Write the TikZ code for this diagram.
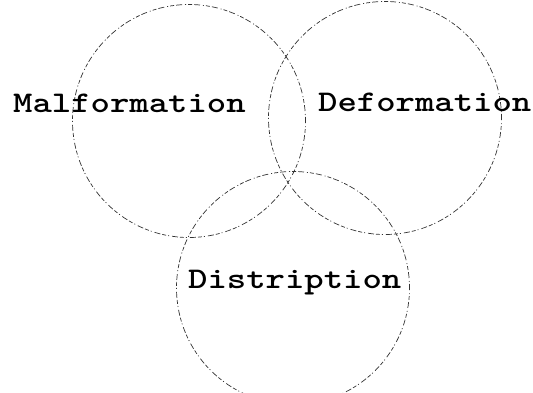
\documentclass[tikz,border=0pt]{standalone}
\usepackage{graphicx}
\begin{document}
\begin{tikzpicture}[x=1pt,y=-1pt,
  ring/.style={circle,draw=black!80,line width=0.7pt,inner sep=0pt,minimum size=233pt,
    dash pattern=on 4pt off 2pt on 1pt off 3pt on 6pt off 2pt},
  word/.style={anchor=base west,inner sep=0pt,font=\ttfamily\bfseries\fontsize{30}{30}\selectfont}]
\useasboundingbox (0,0) rectangle (533,393);
\node[ring] (mal) at (189,121) {};
\node[ring] (def) at (385,118) {};
\node[ring] (dis) at (293,288) {};
\node[word] (tmal) at (13,113) {\scalebox{1.23}[1]{Malformation}};
\node[word] (tdef) at (318,112) {\scalebox{1.23}[1]{Deformation}};
\node[word] (tdis) at (188,288) {\scalebox{1.23}[1]{Distription}};
\end{tikzpicture}
\end{document}
